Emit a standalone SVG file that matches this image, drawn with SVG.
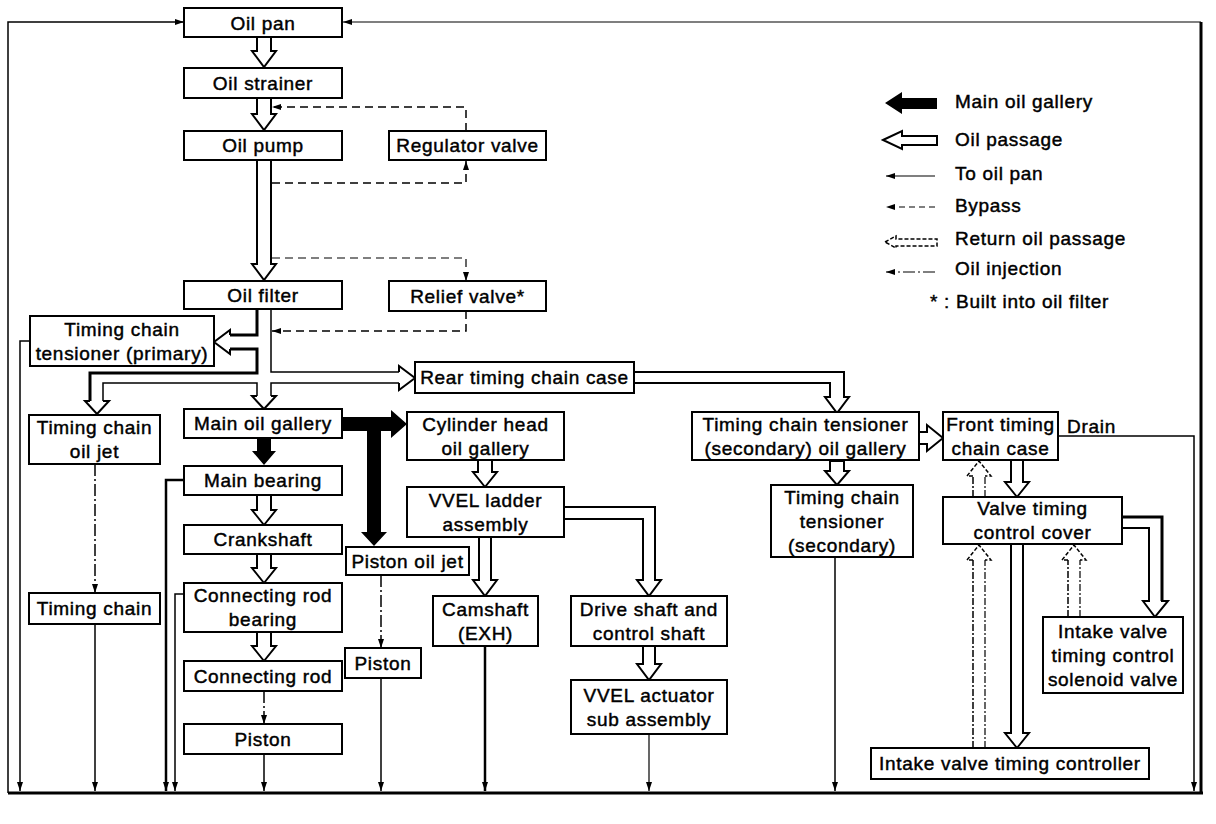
<svg xmlns="http://www.w3.org/2000/svg" width="1216" height="824" viewBox="0 0 1216 824">
<defs>
<marker id="ah" viewBox="0 0 9 6" refX="9" refY="3" markerWidth="9" markerHeight="6" markerUnits="userSpaceOnUse" orient="auto"><path d="M0,0 L9,3 L0,6 Z" fill="#000"/></marker>
<style>
.box{fill:#fff;stroke:#000;stroke-width:2}
.t{font-family:"Liberation Sans",Arial,sans-serif;font-size:19px;letter-spacing:0.7px;text-anchor:middle;fill:#000;stroke:#000;stroke-width:0.45}
.ts{text-anchor:start}
.ln{fill:none;stroke:#000;stroke-width:1.5}
.thk{stroke-width:2.5}
.th3{stroke-width:3}
.thn{stroke-width:1.2}
.bp{stroke-dasharray:8 5}
.inj{stroke-dasharray:12 3 2 3}
.ret{stroke-dasharray:7 2 2 2}
.op{fill:#fff;stroke:#000;stroke-width:2;stroke-linejoin:miter}
.opr{fill:#fff;stroke:#000;stroke-width:1.5;stroke-dasharray:4 2}
.blk{fill:#000;stroke:none}
</style>
</defs>
<rect width="1216" height="824" fill="#fff"/>
<g id="connectors">
<!-- frame -->
<path class="ln" d="M8,793 V22 H184" marker-end="url(#ah)"/>
<path class="ln thn" d="M1201,22 H343" marker-end="url(#ah)"/>
<path class="ln th3" d="M1201,22 V794"/>
<path class="ln th3" d="M8,793 H1203"/>
<!-- drops to oil pan -->
<path class="ln" stroke-width="2" d="M30,341 H20 V791" marker-end="url(#ah)"/>
<path class="ln" d="M95,624 V791" marker-end="url(#ah)"/>
<path class="ln thk" d="M184,480 H166 V791" marker-end="url(#ah)"/>
<path class="ln" d="M184,594 H175 V791" marker-end="url(#ah)"/>
<path class="ln" d="M264,754 V791" marker-end="url(#ah)"/>
<path class="ln" d="M381,678 V791" marker-end="url(#ah)"/>
<path class="ln thk" d="M485,646 V791" marker-end="url(#ah)"/>
<path class="ln thn" d="M649,734 V791" marker-end="url(#ah)"/>
<path class="ln" d="M835,557 V791" marker-end="url(#ah)"/>
<path class="ln" d="M1058,436 H1194 V791" marker-end="url(#ah)"/>
<!-- oil injection -->
<path class="ln inj" d="M95,464 V593" marker-end="url(#ah)"/>
<path class="ln inj" d="M381,575 V648" marker-end="url(#ah)"/>
<path class="ln inj" d="M264,691 V724" marker-end="url(#ah)"/>
<!-- bypass -->
<path class="ln bp" stroke-width="1.8" d="M466,131 V107 H272" marker-end="url(#ah)"/>
<path class="ln bp" stroke-width="2" d="M272,183 H466 V161" marker-end="url(#ah)"/>
<path class="ln bp thn" d="M272,258 H466 V281" marker-end="url(#ah)"/>
<path class="ln bp" stroke-width="2" d="M466,311 V331 H272" marker-end="url(#ah)"/>
<!-- oil passages -->
<polygon class="op" points="257,37 257,51 252,51 264,67 276,51 271,51 271,37"/>
<polygon class="op" points="257,98 257,114 252,114 264,130 276,114 271,114 271,98"/>
<polygon class="op" points="257,160 257,264 252,264 264,280 276,264 271,264 271,160"/>
<path class="ln" stroke-width="3.5" d="M257,160 V264 M271,160 V264"/>
<!-- filter outlet -->
<path class="ln th3" d="M257,309 V335 H230"/>
<path class="op" d="M230,335 V330 L214,342 L230,354 V349"/>
<path class="ln th3" d="M230,349 H257 V373 H90 V401"/>
<path class="op" d="M90,401 H85 L97,414 L109,401 H103"/>
<path class="ln" stroke-width="2" d="M103,401 V383 H257 V396"/>
<path class="ln" stroke-width="2" d="M271,396 V383 H399"/>
<path class="ln" stroke-width="2" d="M271,309 V372 H399"/>
<path class="op" d="M399,372 V366 L415,378 L399,390 V383"/>
<path class="op" d="M257,396 H252 L264,409 L276,396 H271"/>
<!-- main oil gallery -->
<polygon class="blk" points="257,438 257,451 252,451 264,465 276,451 271,451 271,438"/>
<polygon class="blk" points="342,417 391,417 391,410 407,424 391,438 391,431 342,431"/>
<polygon class="blk" points="367,424 381,424 381,532 387,532 374,546 361,532 367,532"/>
<polygon class="op" points="257,495 257,510 252,510 264,525 276,510 271,510 271,495"/>
<polygon class="op" points="257,554 257,568 252,568 264,583 276,568 271,568 271,554"/>
<polygon class="op" points="257,632 257,646 252,646 264,661 276,646 271,646 271,632"/>
<!-- cylinder head -->
<polygon class="op" points="478,460 478,472 473,472 485,487 497,472 492,472 492,460"/>
<polygon class="op" points="479,537 479,580 473,580 485,596 497,580 491,580 491,537"/>
<path class="op" d="M564,507 H655 V580 H661 L649,596 L637,580 H643 V519 H564"/>
<polygon class="op" points="643,646 643,664 637,664 649,680 661,664 655,664 655,646"/>
<!-- rear / front timing -->
<path class="op" d="M634,372 H844 V397 H849 L837,413 L825,397 H830 V383 H634"/>
<polygon class="op" points="830,461 830,471 825,471 837,485 849,471 844,471 844,461"/>
<polygon class="op" points="919,432 927,432 927,425 943,438 927,451 927,444 919,444"/>
<polygon class="op" points="1011,460 1011,482 1005,482 1017,497 1029,482 1023,482 1023,460"/>
<path class="op" d="M1122,517 H1162 V601 H1168 L1155,617 L1143,601 H1149 V528 H1122"/>
<path class="ln th3" d="M1122,517 H1162 V601"/>
<polygon class="op" points="1011,544 1011,733 1005,733 1017,748 1029,733 1023,733 1023,544"/>
<!-- return passages -->
<path class="ln ret" stroke-width="2.5" d="M973,497 V476"/>
<path class="ln ret thn" d="M985,497 V476"/>
<path class="opr" d="M973,476 H967 L979,461 L991,476 H985"/>
<path class="ln ret" stroke-width="2.5" d="M973,748 V560"/>
<path class="ln ret thn" d="M985,748 V560"/>
<path class="opr" d="M973,560 H967 L979,545 L991,560 H985"/>
<path class="ln ret" stroke-width="2.5" d="M1068,617 V560"/>
<path class="ln ret thn" d="M1080,617 V560"/>
<path class="opr" d="M1068,560 H1062 L1074,545 L1086,560 H1080"/>
</g>
<g id="legend">
<polygon class="blk" points="885,103 902,92 902,98 937,98 937,109 902,109 902,114"/>
<polygon class="op" stroke-width="1.5" points="883,140 902,131 902,136 937,136 937,145 902,145 902,149"/>
<path class="ln thn" d="M935,176 H886" marker-end="url(#ah)"/>
<path class="ln thn" stroke-dasharray="6 4" d="M935,207 H886" marker-end="url(#ah)"/>
<polygon class="opr" stroke-width="1.2" stroke-dasharray="3 2" points="885,242 896,236 896,239 937,239 937,246 896,246 896,248"/>
<path class="ln thn inj" d="M935,272 H886" marker-end="url(#ah)"/>
<text class="t ts" x="955" y="108">Main oil gallery</text>
<text class="t ts" x="955" y="146">Oil passage</text>
<text class="t ts" x="955" y="180">To oil pan</text>
<text class="t ts" x="955" y="212">Bypass</text>
<text class="t ts" x="955" y="245">Return oil passage</text>
<text class="t ts" x="955" y="275">Oil injection</text>
<text class="t ts" x="930" y="308">* : Built into oil filter</text>
</g>
<g id="n-oil-pan"><rect class="box" x="184" y="8" width="158" height="29"/><text class="t" x="263" y="29.5">Oil pan</text></g>
<g id="n-oil-strainer"><rect class="box" x="184" y="68" width="158" height="30"/><text class="t" x="263" y="89.8">Oil strainer</text></g>
<g id="n-oil-pump"><rect class="box" x="184" y="131" width="158" height="29"/><text class="t" x="263" y="152.3">Oil pump</text></g>
<g id="n-regulator-valve"><rect class="box" x="389" y="131" width="157" height="29"/><text class="t" x="467.5" y="152.3">Regulator valve</text></g>
<g id="n-oil-filter"><rect class="box" x="184" y="281" width="158" height="28"/><text class="t" x="263" y="301.8">Oil filter</text></g>
<g id="n-relief-valve"><rect class="box" x="389" y="281" width="157" height="30"/><text class="t" x="467.5" y="302.8">Relief valve*</text></g>
<g id="n-tct-primary"><rect class="box" x="30" y="316" width="184" height="50"/><text class="t" x="122" y="335.8">Timing chain</text><text class="t" x="122" y="359.8">tensioner (primary)</text></g>
<g id="n-rear-tcc"><rect class="box" x="415" y="362" width="219" height="31"/><text class="t" x="524.5" y="384.3">Rear timing chain case</text></g>
<g id="n-tc-oil-jet"><rect class="box" x="29" y="415" width="131" height="49"/><text class="t" x="94.5" y="434.3">Timing chain</text><text class="t" x="94.5" y="458.3">oil jet</text></g>
<g id="n-main-oil-gallery"><rect class="box" x="184" y="409" width="158" height="29"/><text class="t" x="263" y="430.3">Main oil gallery</text></g>
<g id="n-cyl-head-gallery"><rect class="box" x="407" y="412" width="157" height="48"/><text class="t" x="485.5" y="430.8">Cylinder head</text><text class="t" x="485.5" y="454.8">oil gallery</text></g>
<g id="n-tct-sec-gallery"><rect class="box" x="692" y="412" width="227" height="48"/><text class="t" x="805.5" y="430.8">Timing chain tensioner</text><text class="t" x="805.5" y="454.8">(secondary) oil gallery</text></g>
<g id="n-front-tcc"><rect class="box" x="943" y="412" width="115" height="48"/><text class="t" x="1000.5" y="430.8">Front timing</text><text class="t" x="1000.5" y="454.8">chain case</text><text class="t ts" x="1067" y="433">Drain</text></g>
<g id="n-main-bearing"><rect class="box" x="184" y="466" width="158" height="29"/><text class="t" x="263" y="487.3">Main bearing</text></g>
<g id="n-vvel-ladder"><rect class="box" x="407" y="487" width="157" height="50"/><text class="t" x="485.5" y="506.8">VVEL ladder</text><text class="t" x="485.5" y="530.8">assembly</text></g>
<g id="n-tct-secondary"><rect class="box" x="771" y="485" width="142" height="72"/><text class="t" x="842" y="503.8">Timing chain</text><text class="t" x="842" y="527.8">tensioner</text><text class="t" x="842" y="551.8">(secondary)</text></g>
<g id="n-crankshaft"><rect class="box" x="184" y="525" width="158" height="29"/><text class="t" x="263" y="546.3">Crankshaft</text></g>
<g id="n-piston-oil-jet"><rect class="box" x="346" y="547" width="123" height="28"/><text class="t" x="407.5" y="567.8">Piston oil jet</text></g>
<g id="n-timing-chain"><rect class="box" x="29" y="593" width="131" height="31"/><text class="t" x="94.5" y="615.3">Timing chain</text></g>
<g id="n-conrod-bearing"><rect class="box" x="184" y="583" width="158" height="49"/><text class="t" x="263" y="602.3">Connecting rod</text><text class="t" x="263" y="626.3">bearing</text></g>
<g id="n-camshaft"><rect class="box" x="433" y="596" width="105" height="50"/><text class="t" x="485.5" y="615.8">Camshaft</text><text class="t" x="485.5" y="639.8">(EXH)</text></g>
<g id="n-drive-shaft"><rect class="box" x="571" y="596" width="156" height="50"/><text class="t" x="649" y="615.8">Drive shaft and</text><text class="t" x="649" y="639.8">control shaft</text></g>
<g id="n-piston-2"><rect class="box" x="345" y="648" width="76" height="30"/><text class="t" x="383" y="669.8">Piston</text></g>
<g id="n-conrod"><rect class="box" x="184" y="661" width="158" height="30"/><text class="t" x="263" y="682.8">Connecting rod</text></g>
<g id="n-vvel-actuator"><rect class="box" x="571" y="680" width="156" height="54"/><text class="t" x="649" y="701.8">VVEL actuator</text><text class="t" x="649" y="725.8">sub assembly</text></g>
<g id="n-piston-1"><rect class="box" x="184" y="724" width="158" height="30"/><text class="t" x="263" y="745.8">Piston</text></g>
<g id="n-vtc-cover"><rect class="box" x="943" y="497" width="179" height="47"/><text class="t" x="1032.5" y="515.3">Valve timing</text><text class="t" x="1032.5" y="539.3">control cover</text></g>
<g id="n-ivtc-solenoid"><rect class="box" x="1043" y="617" width="140" height="76"/><text class="t" x="1113" y="637.8">Intake valve</text><text class="t" x="1113" y="661.8">timing control</text><text class="t" x="1113" y="685.8">solenoid valve</text></g>
<g id="n-ivtc-controller"><rect class="box" x="871" y="748" width="278" height="31"/><text class="t" x="1010" y="770.3">Intake valve timing controller</text></g>
</svg>
